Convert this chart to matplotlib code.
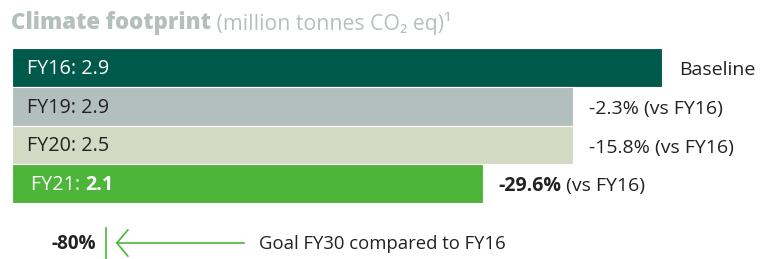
import matplotlib
matplotlib.use("Agg")
import matplotlib.pyplot as plt

plt.rcParams['font.family'] = ['Open Sans', 'DejaVu Sans']

# data
years = ["FY16", "FY19", "FY20", "FY21"]
values = ["2.9", "2.9", "2.5", "2.1"]
bar_len = [2.9, 2.5, 2.5, 2.1]  # drawn lengths as they appear
changes = ["Baseline", "-2.3%", "-15.8%", "-29.6%"]
goal_pct = "-80%"
goal_text = "Goal FY30 compared to FY16"

colors = ["#005a4b", "#b3bfbd", "#d4d9c4", "#4cb53a"]
inner_txt = ["white", "#222222", "#222222", "white"]
dark = "#222222"

W, H = 760, 259
fig = plt.figure(figsize=(W / 100, H / 100), dpi=100)

# overlay in pixel coords for the title and the goal row
ov = fig.add_axes([0, 0, 1, 1])
ov.set_xlim(0, W)
ov.set_ylim(H, 0)
ov.axis("off")

# bar axes
ax = fig.add_axes([12 / W, (H - 203) / H, (W - 12) / W, 155 / H])
ax.set_xlim(0, (W - 12) / 224.3)
ax.set_ylim(3.5, -0.5)
ax.axis("off")

ax.barh(range(len(years)), bar_len, height=1.0, color=colors,
        edgecolor="white", linewidth=0.8)

fs_in = 14.2
fs_r = 14
for i, (yr, v, ch) in enumerate(zip(years, values, changes)):
    dx = 14 if i == 3 else 11
    if i == 3:
        t = ax.annotate(yr + ": ", (0, i), xytext=(dx, -1), textcoords="offset points",
                        va="center", ha="left", fontsize=fs_in, color=inner_txt[i])
        ax.annotate(v, xy=(1, 0.5), xycoords=t, va="center", ha="left",
                    fontsize=fs_in, fontweight="bold", color=inner_txt[i])
    else:
        ax.annotate(f"{yr}: {v}", (0, i), xytext=(dx, -1), textcoords="offset points",
                    va="center", ha="left", fontsize=fs_in, color=inner_txt[i])

    if i == 0:
        ax.annotate(ch, (bar_len[i], i), xytext=(12, -2), textcoords="offset points",
                    va="center", ha="left", fontsize=fs_r, color=dark)
    elif i == 3:
        t = ax.annotate(ch, (bar_len[i], i), xytext=(11, -2), textcoords="offset points",
                        va="center", ha="left", fontsize=fs_r, fontweight="bold", color=dark)
        ax.annotate(" (vs FY16)", xy=(1, 0.5), xycoords=t, va="center", ha="left",
                    fontsize=fs_r, color=dark)
    else:
        ax.annotate(f"{ch} (vs FY16)", (bar_len[i], i), xytext=(12, -2),
                    textcoords="offset points", va="center", ha="left",
                    fontsize=fs_r, color=dark)

# title
title_col = "#b5c0bd"
t1 = ov.text(11, 29, "Climate footprint", fontsize=16, fontweight="heavy",
             color=title_col, ha="left", va="baseline")
ov.annotate(" (million tonnes CO\u2082 eq)\u00b9", xy=(1, 0), xycoords=t1,
            va="bottom", ha="left", fontsize=15.3, color=title_col)

# goal row
green = "#4cb53a"
ov.text(96, 244, goal_pct, fontsize=13.6, fontweight="bold", color=dark,
        ha="right", va="center")
ov.plot([106, 106], [228, 259], color=green, lw=1.2)
ov.annotate("", xy=(113, 243), xytext=(247, 243),
            arrowprops=dict(arrowstyle="->,head_length=0.8,head_width=0.95",
                            color=green, lw=1.2))
ov.text(259, 244, goal_text, fontsize=13.3, color=dark, ha="left", va="center")

fig.savefig("out.png", dpi=100)
